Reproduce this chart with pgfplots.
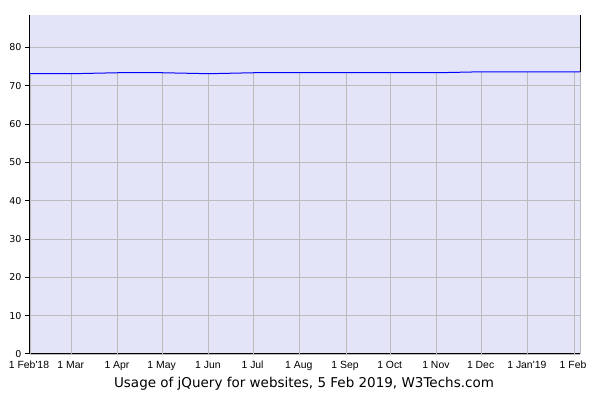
\documentclass[border=0pt]{standalone}
\usepackage{pgfplots}
\pgfplotsset{compat=1.18}
\usepackage{pgfplotstable}
\usepackage{fontspec}
\setmainfont{DejaVu Sans}
\newfontfamily\arialf{Liberation Sans}
\definecolor{bgcol}{RGB}{228,228,248}
\definecolor{gridcol}{RGB}{187,187,187}
\pgfplotstableread{
day value
0   73.15
28  73.15
59  73.4
89  73.4
120 73.15
150 73.4
181 73.4
212 73.4
242 73.4
273 73.4
303 73.65
334 73.65
365 73.65
369 73.65
}\usage
\begin{document}
\begin{tikzpicture}
\useasboundingbox (-30bp,-46bp) rectangle (570bp,354bp);
\begin{axis}[
  at={(0,0)}, anchor=south west,
  scale only axis, width=550bp, height=339.5bp,
  xmin=0, xmax=369, ymin=0, ymax=88.6,
  axis background/.style={fill=bgcol},
  axis x line*=bottom, axis y line*=box,
  axis line style={black, line width=1bp},
  ytick={0,10,...,80},
  ymajorgrids, major grid style={gridcol, line width=0.9bp},
  ytick pos=left, ytick align=outside, major tick length=5bp,
  tick style={black, line width=1bp},
  xtick={0,28,59,89,120,150,181,212,242,273,303,334,365},
  xticklabels={1 Feb'18,1 Mar,1 Apr,1 May,1 Jun,1 Jul,1 Aug,1 Sep,1 Oct,1 Nov,1 Dec,1 Jan'19,1 Feb},
  xtick style={draw=none},
  xticklabel style={font=\arialf\fontsize{10.4bp}{12bp}\selectfont, anchor=base, yshift=-15bp, xshift=-1bp},
  yticklabel style={font=\fontsize{9.5bp}{11bp}\selectfont, anchor=east},
  /pgf/number format/assume math mode=true,
  clip=false,
]
\addplot[ycomb, gridcol, line width=0.9bp, mark=none] table[x=day, y=value] {\usage};
\addplot[blue, line width=1bp, mark=none] table[x=day, y=value] {\usage};
\end{axis}
\node[anchor=base, font=\fontsize{13.5bp}{16bp}\selectfont] at (274bp,-33bp) {Usage of jQuery for websites, 5 Feb 2019, W3Techs.com};
\end{tikzpicture}
\end{document}
